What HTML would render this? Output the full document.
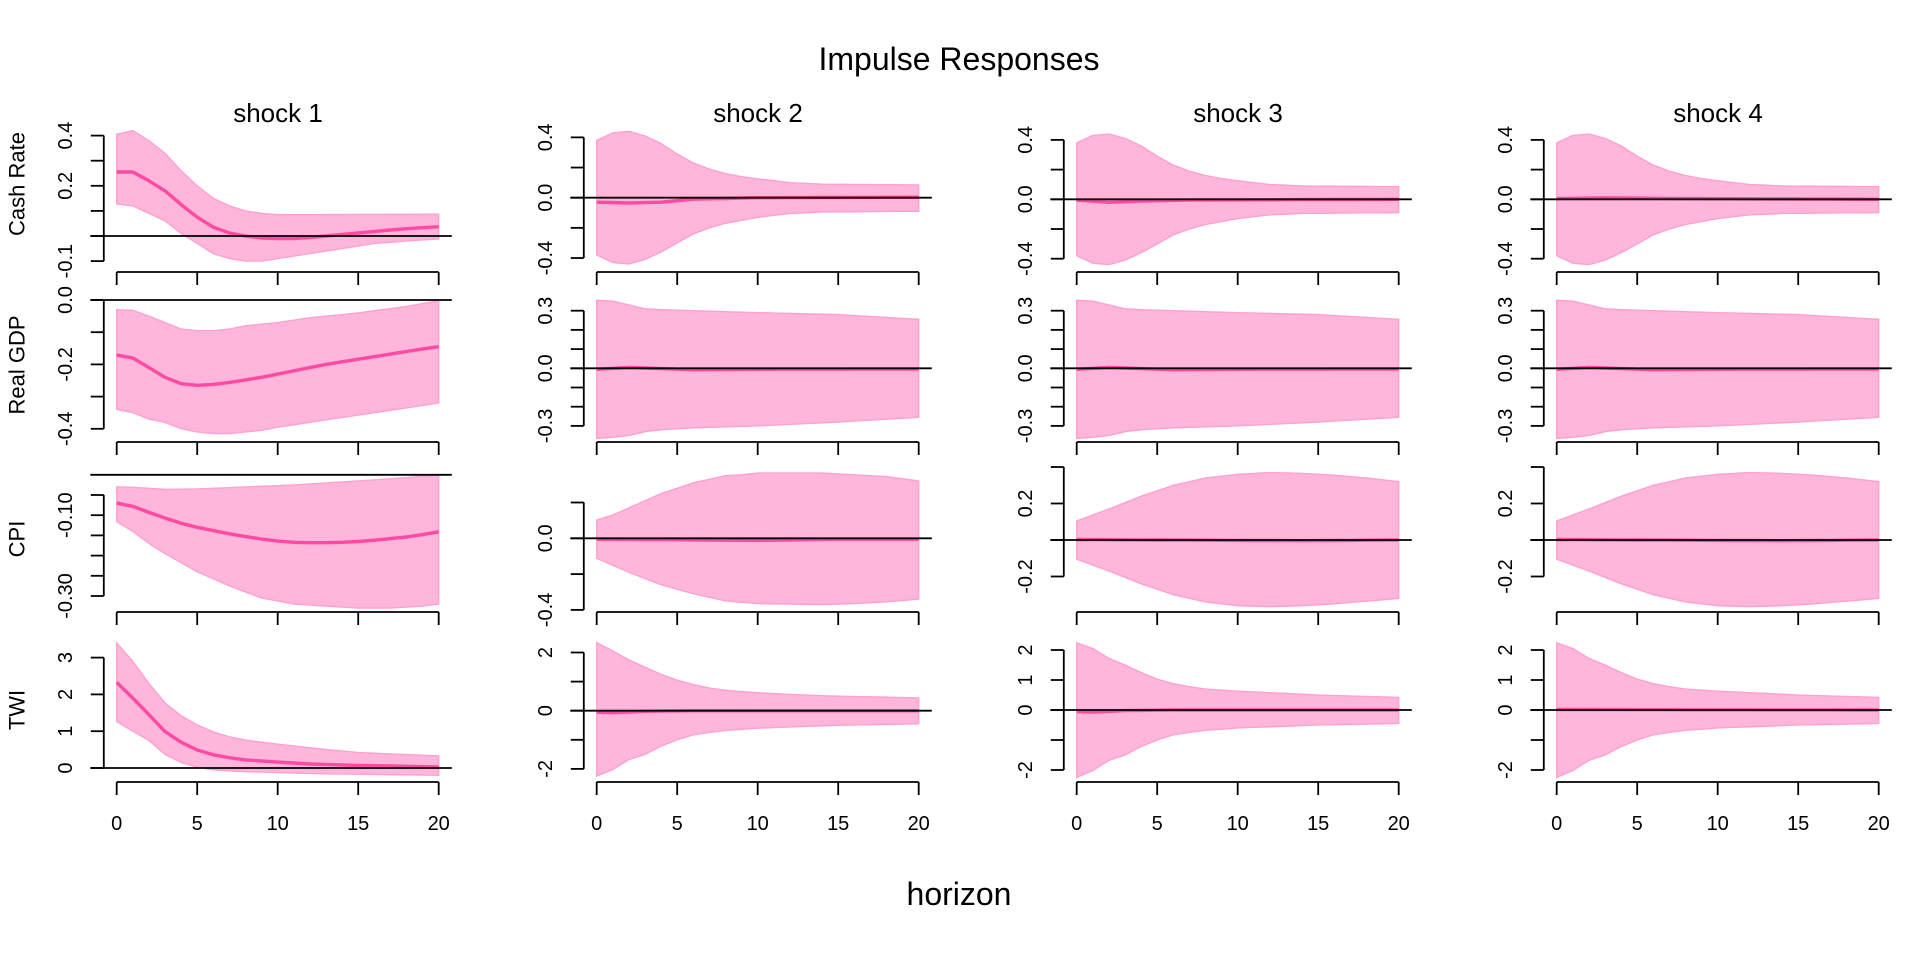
<!DOCTYPE html>
<html><head><meta charset="utf-8"><style>
html,body{margin:0;padding:0;background:#fff;}
svg{display:block;font-family:"Liberation Sans",Arial,sans-serif;}
</style></head><body>
<svg id="s" width="1920" height="960" viewBox="0 0 1920 960" xmlns="http://www.w3.org/2000/svg">
<rect width="1920" height="960" fill="#fff"/>
<text x="959" y="70" font-size="32" text-anchor="middle">Impulse Responses</text>
<text x="959" y="905" font-size="32" text-anchor="middle">horizon</text>
<text x="278" y="122" font-size="26" text-anchor="middle">shock 1</text>
<text x="758" y="122" font-size="26" text-anchor="middle">shock 2</text>
<text x="1238" y="122" font-size="26" text-anchor="middle">shock 3</text>
<text x="1718" y="122" font-size="26" text-anchor="middle">shock 4</text>
<text transform="translate(17,184) rotate(-90)" font-size="22" text-anchor="middle" dominant-baseline="central">Cash Rate</text>
<text transform="translate(17,365) rotate(-90)" font-size="22" text-anchor="middle" dominant-baseline="central">Real GDP</text>
<text transform="translate(17,539) rotate(-90)" font-size="22" text-anchor="middle" dominant-baseline="central">CPI</text>
<text transform="translate(17,710) rotate(-90)" font-size="22" text-anchor="middle" dominant-baseline="central">TWI</text>
<g id="g"></g>
</svg>
<script>
function interp(p){var a=[];for(var x=0;x<=20;x++){for(var i=0;i<p.length-1;i++){if(x>=p[i][0]&&x<=p[i+1][0]){var t=(x-p[i][0])/(p[i+1][0]-p[i][0]||1);a.push(p[i][1]+t*(p[i+1][1]-p[i][1]));break;}}}return a;}
var rowsX=[272,442,612,782];
var c1=[
 {y0:236,ppu:251,ticks:[0.4,0.3,0.2,0.1,0,-0.1],labels:[[0.4,"0.4"],[0.2,"0.2"],[-0.1,"-0.1"]],
  up:[[0,0.405],[1,0.42],[2,0.38],[3,0.33],[4,0.26],[5,0.2],[6,0.15],[7,0.12],[8,0.1],[9,0.09],[10,0.085],[20,0.087]],
  lo:[[0,0.127],[1,0.12],[2,0.09],[3,0.06],[4,0.01],[5,-0.03],[6,-0.07],[7,-0.09],[8,-0.1],[9,-0.1],[10,-0.09],[11,-0.08],[12,-0.07],[13,-0.06],[14,-0.05],[15,-0.04],[16,-0.03],[18,-0.02],[20,-0.012]],
  m:[[0,0.255],[1,0.255],[2,0.22],[3,0.18],[4,0.125],[5,0.075],[6,0.035],[7,0.012],[8,0.0],[9,-0.008],[10,-0.01],[11,-0.01],[12,-0.006],[13,0],[14,0.006],[15,0.012],[16,0.018],[17,0.024],[18,0.029],[19,0.033],[20,0.037]]},
 {y0:300,ppu:322,ticks:[0,-0.1,-0.2,-0.3,-0.4],labels:[[0,"0.0"],[-0.2,"-0.2"],[-0.4,"-0.4"]],
  up:[[0,-0.03],[1,-0.032],[2,-0.05],[3,-0.07],[4,-0.09],[5,-0.095],[6,-0.095],[7,-0.09],[8,-0.08],[10,-0.07],[12,-0.055],[15,-0.04],[18,-0.02],[20,-0.002]],
  lo:[[0,-0.34],[1,-0.35],[2,-0.37],[3,-0.38],[4,-0.4],[5,-0.41],[6,-0.415],[7,-0.415],[8,-0.41],[9,-0.405],[10,-0.395],[12,-0.38],[14,-0.365],[16,-0.35],[18,-0.335],[20,-0.32]],
  m:[[0,-0.171],[1,-0.18],[2,-0.21],[3,-0.24],[4,-0.26],[5,-0.265],[6,-0.262],[7,-0.256],[8,-0.248],[9,-0.24],[10,-0.23],[11,-0.22],[12,-0.21],[13,-0.2],[14,-0.192],[15,-0.184],[16,-0.176],[17,-0.168],[18,-0.16],[19,-0.152],[20,-0.145]]},
 {y0:474.8,ppu:404,ticks:[-0.05,-0.1,-0.15,-0.2,-0.25,-0.3],labels:[[-0.1,"-0.10"],[-0.3,"-0.30"]],
  up:[[0,-0.03],[1,-0.031],[3,-0.036],[5,-0.035],[8,-0.03],[11,-0.025],[13,-0.02],[15,-0.015],[17,-0.01],[20,0.0]],
  lo:[[0,-0.116],[1,-0.14],[2,-0.17],[3,-0.195],[5,-0.24],[7,-0.275],[9,-0.305],[11,-0.32],[13,-0.325],[15,-0.33],[17,-0.33],[19,-0.325],[20,-0.32]],
  m:[[0,-0.07],[1,-0.078],[2,-0.093],[3,-0.107],[4,-0.12],[5,-0.13],[6,-0.138],[7,-0.146],[8,-0.153],[9,-0.159],[10,-0.164],[11,-0.167],[12,-0.168],[13,-0.168],[14,-0.167],[15,-0.165],[16,-0.162],[17,-0.158],[18,-0.154],[19,-0.148],[20,-0.141]]},
 {y0:768,ppu:36.8,ticks:[3,2,1,0],labels:[[3,"3"],[2,"2"],[1,"1"],[0,"0"]],
  up:[[0,3.4],[1,2.9],[2,2.3],[3,1.77],[4,1.42],[5,1.17],[6,0.98],[7,0.85],[8,0.76],[10,0.65],[12,0.55],[15,0.42],[20,0.33]],
  lo:[[0,1.26],[1,1.0],[2,0.75],[3,0.37],[4,0.15],[5,0.02],[6,-0.05],[8,-0.1],[12,-0.15],[20,-0.2]],
  m:[[0,2.33],[1,1.9],[2,1.45],[3,0.99],[4,0.7],[5,0.49],[6,0.36],[7,0.28],[8,0.22],[10,0.16],[12,0.11],[15,0.07],[20,0.03]]}
];
function c34(){return [
 {y0:199.3,ppu:148.5,ticks:[0.4,0.2,0,-0.2,-0.4],labels:[[0.4,"0.4"],[0,"0.0"],[-0.4,"-0.4"]],
  up:[[0,0.38],[1,0.43],[2,0.44],[3,0.41],[4,0.36],[5,0.29],[6,0.23],[7,0.19],[8,0.16],[9,0.14],[10,0.125],[12,0.1],[14,0.09],[20,0.085]],
  lo:[[0,-0.38],[1,-0.43],[2,-0.44],[3,-0.41],[4,-0.36],[5,-0.3],[6,-0.24],[7,-0.2],[8,-0.17],[9,-0.15],[10,-0.13],[12,-0.105],[14,-0.095],[20,-0.09]],
  m:[[0,-0.005],[2,-0.02],[4,-0.012],[7,-0.005],[20,0]]},
 {y0:368.3,ppu:192,ticks:[0.3,0.2,0.1,0,-0.1,-0.2,-0.3],labels:[[0.3,"0.3"],[0,"0.0"],[-0.3,"-0.3"]],
  up:[[0,0.355],[1,0.35],[2,0.33],[3,0.31],[4,0.305],[6,0.3],[10,0.29],[15,0.28],[20,0.255]],
  lo:[[0,-0.365],[1,-0.36],[2,-0.35],[3,-0.33],[4,-0.32],[6,-0.31],[10,-0.3],[15,-0.28],[20,-0.255]],
  m:[[0,-0.005],[2,0.005],[6,-0.008],[10,-0.005],[20,-0.004]]},
 {y0:540,ppu:182.5,ticks:[0.4,0.2,0,-0.2],labels:[[0.2,"0.2"],[-0.2,"-0.2"]],
  up:[[0,0.104],[2,0.17],[4,0.24],[6,0.3],[8,0.34],[10,0.36],[12,0.37],[14,0.365],[16,0.355],[18,0.34],[20,0.32]],
  lo:[[0,-0.105],[2,-0.17],[4,-0.24],[6,-0.3],[8,-0.34],[10,-0.36],[12,-0.365],[14,-0.36],[16,-0.35],[18,-0.335],[20,-0.32]],
  m:[[0,0.003],[5,0],[10,-0.002],[14,-0.004],[20,0]]},
 {y0:710,ppu:30,ticks:[2,1,0,-1,-2],labels:[[2,"2"],[1,"1"],[0,"0"],[-2,"-2"]],
  up:[[0,2.24],[1,2.05],[2,1.72],[3,1.5],[4,1.25],[5,1.03],[6,0.88],[7,0.78],[8,0.7],[10,0.63],[15,0.5],[20,0.42]],
  lo:[[0,-2.25],[1,-2.02],[2,-1.68],[3,-1.5],[4,-1.22],[5,-1.0],[6,-0.83],[7,-0.75],[8,-0.68],[10,-0.6],[15,-0.5],[20,-0.45]],
  m:[[0,-0.05],[1,-0.07],[3,-0.02],[6,0],[20,0]]}
];}
var c2=c34();
c2[0].y0=197.7;c2[0].ppu=150.8;c2[0].m=[[0,-0.03],[2,-0.035],[4,-0.03],[6,-0.01],[10,0],[20,0.003]];
c2[2]={y0:538.3,ppu:179,ticks:[0.2,0,-0.2,-0.4],labels:[[0,"0.0"],[-0.4,"-0.4"]],
  up:[[0,0.102],[1,0.13],[2,0.17],[3,0.21],[4,0.25],[5,0.28],[6,0.31],[7,0.33],[8,0.35],[9,0.355],[10,0.365],[14,0.365],[16,0.355],[18,0.345],[20,0.32]],
  lo:[[0,-0.112],[2,-0.19],[4,-0.26],[6,-0.31],[8,-0.35],[10,-0.365],[14,-0.37],[16,-0.365],[18,-0.355],[20,-0.34]],
  m:[[0,-0.005],[5,-0.008],[10,-0.012],[15,-0.005],[20,-0.005]]};
c2[3].y0=710.7;c2[3].ppu=29.1;c2[3].labels=[[2,"2"],[0,"0"],[-2,"-2"]];
c2[3].up=[[0,2.34],[1,2.05],[2,1.75],[3,1.5],[4,1.25],[5,1.05],[6,0.9],[7,0.78],[8,0.7],[10,0.62],[12,0.56],[15,0.5],[20,0.44]];
var c3=c34(),c4=c34();
c4[0].m=[[0,0.005],[3,0.01],[8,0.005],[20,0]];c4[3].m=[[0,0.02],[5,0.01],[20,0]];
var cols=[c1,c2,c3,c4];
var out="";
var NS='stroke="#000" stroke-width="1.8" fill="none"';
cols.forEach(function(col,k){
  var x0=116.7+480*k, ppx=16.1, ax=x0-12.9;
  function X(h){return x0+h*ppx;}
  col.forEach(function(p,r){
    function Y(v){return p.y0-v*p.ppu;}
    var up=interp(p.up),lo=interp(p.lo),m=interp(p.m);
    var d="M";for(var h=0;h<=20;h++)d+=X(h).toFixed(1)+","+Y(up[h]).toFixed(1)+" L";
    for(var h=20;h>=0;h--)d+=X(h).toFixed(1)+","+Y(lo[h]).toFixed(1)+(h>0?" L":" Z");
    out+='<path d="'+d+'" fill="#FFB6DA" stroke="#FF9FCF" stroke-width="1.3"/>';
    var ml="";for(var h=0;h<=20;h++)ml+=(h?"L":"M")+X(h).toFixed(1)+","+Y(m[h]).toFixed(1);
    out+='<path d="'+ml+'" stroke="#FF4AA3" stroke-width="3.4" fill="none" stroke-linejoin="round"/>';
    out+='<line x1="'+(ax-13.5)+'" x2="'+(ax+348)+'" y1="'+Y(0)+'" y2="'+Y(0)+'" stroke="#000" stroke-width="1.8"/>';
    var t=p.ticks,ya=Y(t[0]),yb=Y(t[t.length-1]);
    out+='<line x1="'+ax+'" x2="'+ax+'" y1="'+ya+'" y2="'+yb+'" '+NS+'/>';
    t.forEach(function(v){out+='<line x1="'+(ax-13)+'" x2="'+ax+'" y1="'+Y(v)+'" y2="'+Y(v)+'" '+NS+'/>';});
    p.labels.forEach(function(l){out+='<text transform="translate('+(ax-38)+','+Y(l[0])+') rotate(-90)" font-size="20" text-anchor="middle" dominant-baseline="central">'+l[1]+'</text>';});
    var yx=rowsX[r];
    out+='<line x1="'+X(0)+'" x2="'+X(20)+'" y1="'+yx+'" y2="'+yx+'" '+NS+'/>';
    for(var h=0;h<=20;h+=5){out+='<line x1="'+X(h)+'" x2="'+X(h)+'" y1="'+yx+'" y2="'+(yx+13)+'" '+NS+'/>';
      if(r==3)out+='<text x="'+X(h)+'" y="830" font-size="20" text-anchor="middle">'+h+'</text>';}
  });
});
document.getElementById("g").innerHTML=out;
</script>
</body></html>
